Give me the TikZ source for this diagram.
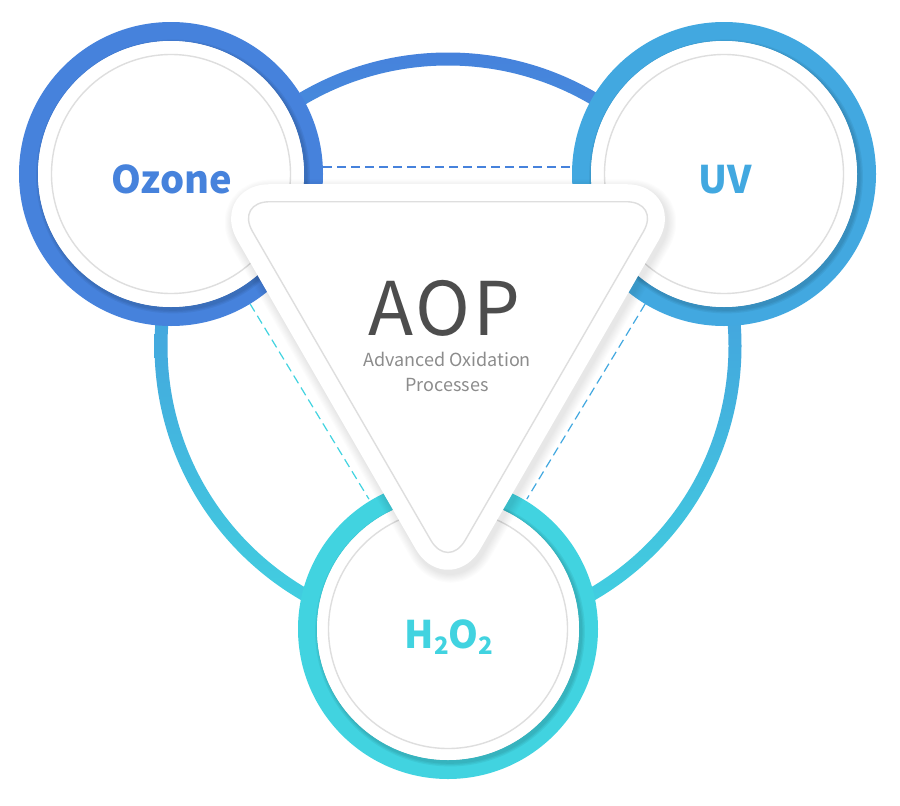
\documentclass[tikz,border=0pt]{standalone}
\usepackage{fontspec}
\newfontfamily\kr{Noto Sans CJK KR}
\newfontfamily\kraop{Noto Sans CJK KR}[LetterSpace=4]
\definecolor{ozc}{HTML}{4682DC}
\definecolor{uvc}{HTML}{42A8E0}
\definecolor{h2c}{HTML}{41D3E0}
\definecolor{ringgray}{HTML}{DEDEDE}
\definecolor{aopc}{HTML}{4D4D4D}
\definecolor{subc}{HTML}{8C8C8C}
\begin{document}
\begin{tikzpicture}[x=1pt,y=-1pt,
  ringnode/.style={circle, minimum size=304pt, inner sep=0pt, outer sep=0pt},
  ringline/.style={line width=19pt},
  innerline/.style={draw=ringgray, line width=1.4pt},
  dashline/.style={line width=1.2pt, dash pattern=on 9pt off 5pt},
  ringlabel/.style={font=\kr\bfseries\fontsize{38}{40}\selectfont, inner sep=0pt, anchor=base},
  tri/.style={rounded corners=34.6pt, line join=round},
]
\useasboundingbox (0,0) rectangle (900,806);
\fill[white] (0,0) rectangle (900,806);
% big connecting circle
\coordinate (C) at (448,346);
\shade[top color=ozc, middle color=uvc, bottom color=h2c, even odd rule]
  (C) circle (293.5pt) (C) circle (280.5pt);
% circle nodes
\node[ringnode] (oz) at (171,174) {};
\node[ringnode] (uv) at (724,174) {};
\node[ringnode] (h2) at (448,629) {};
% dashed connectors
\draw[dashline, draw=ozc] ([yshift=7pt]oz.east) -- ([yshift=7pt]uv.west);
\draw[dashline, draw=h2c] (oz) -- (h2);
\draw[dashline, draw=uvc] (uv) -- (h2);
% rings
\foreach \n/\c/\r in {oz/ozc/142.5, uv/uvc/142.5, h2/h2c/140.5}{
  \draw[ringline, draw=\c, fill=white] (\n.center) circle (\r pt);
  \foreach \k in {1,2,3}{
    \fill[black, opacity=0.05] ([shift={(2pt,-2.5pt)}]\n.center) circle ({(\r-9.5+1.3*\k)*1pt});
  }
  \fill[white] (\n.center) circle ({(\r-9.5)*1pt});
  \draw[innerline] (\n.center) circle (119.5pt);
}
% triangle
\coordinate (tm) at (448,201.7);
\coordinate (tl) at (235.3,201.7);
\coordinate (tr) at (660.7,201.7);
\coordinate (tb) at (448,570);
\foreach \k in {1,...,8}{
  \draw[tri, line width={(35+2.2*\k)*1pt}, black, opacity=0.013,
        transform canvas={shift={(2.5pt,-4pt)}}]
    (tm) -- (tr) -- (tb) -- (tl) -- cycle;
}
\path[tri, fill=white, draw=white, line width=35pt] (tm) -- (tr) -- (tb) -- (tl) -- cycle;
\draw[tri, innerline] (tm) -- (tr) -- (tb) -- (tl) -- cycle;
% labels
\node[ringlabel, text=ozc] (ozt) at (172,193) {Ozone};
\node[ringlabel, text=uvc] (uvt) at (725,193) {UV};
\node[ringlabel, text=h2c] (h2t) at (449,648)
  {H\raisebox{-6pt}{\fontsize{24}{24}\selectfont 2}O\raisebox{-6pt}{\fontsize{24}{24}\selectfont 2}};
\node[font=\kraop\fontsize{74}{80}\selectfont, text=aopc, anchor=base, inner sep=0pt] (aop) at (444,335) {AOP};
\node[font=\kr\fontsize{18}{22}\selectfont, text=subc, anchor=base, inner sep=0pt] (sub1) at (447,366) {Advanced Oxidation};
\node[font=\kr\fontsize{18}{22}\selectfont, text=subc, anchor=base, inner sep=0pt] (sub2) at (447,391) {Processes};
\end{tikzpicture}
\end{document}
